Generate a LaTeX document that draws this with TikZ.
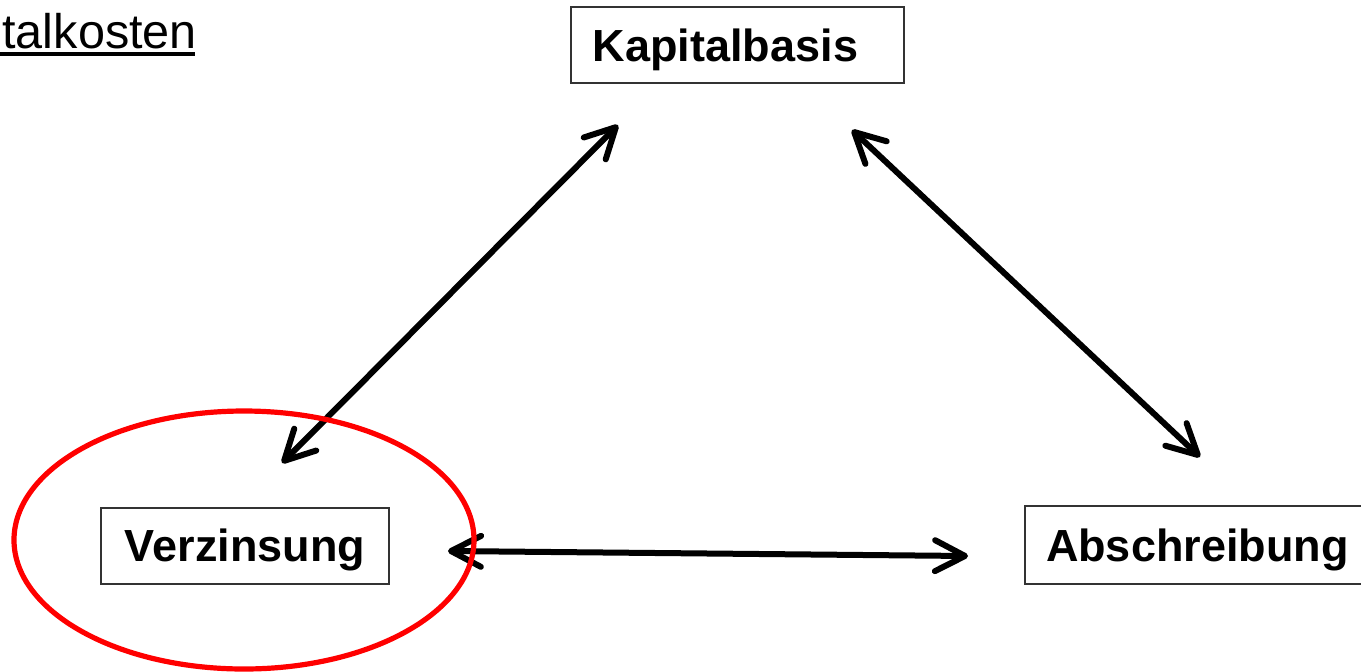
\documentclass[tikz,border=0pt]{standalone}
\usepackage{fontspec}
\setmainfont{Liberation Sans}
\usetikzlibrary{arrows.meta}
\begin{document}
\begin{tikzpicture}[x=0.5pt,y=-0.5pt,
  boxline/.style={draw=black!80,line width=1pt},
  box/.style={boxline,rectangle,inner sep=0pt,
    font=\fontsize{22.5pt}{26pt}\selectfont\bfseries,
    text height=16.1pt,text depth=0pt,minimum height=38pt},
  arr/.style={line width=3pt,line cap=round,
    {Straight Barb[length=15pt,width=15.5pt,round]}-{Straight Barb[length=15pt,width=15.5pt,round]}}]
\useasboundingbox (0,0) rectangle (1361,671);
\fill[white] (0,0) rectangle (1361,671);
% title fragment
\node[anchor=base west,inner sep=0pt,font=\fontsize{24.3pt}{28pt}\selectfont] (t) at (2,48) {talkosten};
\draw[line width=2pt] (0,53.5) -- ([xshift=-1pt]t.base east |- 0,53.5);
% boxes
\node[box,minimum width=166.5pt] (k) at (737.5,45) {Kapitalbasis\hspace*{12pt}};
\node[box,minimum width=144pt] (v) at (245,545.5) {Verzinsung};
\node[box,draw=none,anchor=west] (a) at (1045,545) {Abschreibung};
\draw[boxline] (a.north west -| 1362,0) -- ([xshift=-10pt]a.north west)
  -- ([xshift=-10pt]a.south west) -- (a.south west -| 1362,0);
% arrow end points
\coordinate (kv) at (618,125);
\coordinate (vk) at (282,463);
\coordinate (ka) at (852,130);
\coordinate (ak) at (1200,457);
\coordinate (va) at (448,551);
\coordinate (av) at (968,556);
\draw[arr] (vk) -- (kv);
\draw[arr] (ka) -- (ak);
\draw[arr] (va) -- (av);
% red ellipse
\draw[red,line width=2.6pt] (244,540) ellipse [x radius=230,y radius=129];
\end{tikzpicture}
\end{document}
